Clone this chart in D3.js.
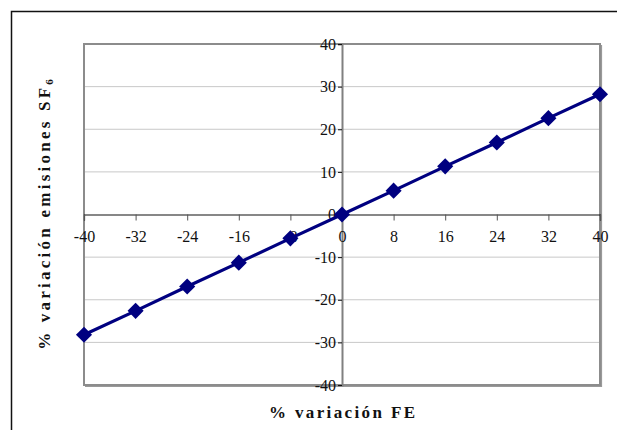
<!DOCTYPE html>
<html><head><meta charset="utf-8">
<script src="https://cdn.jsdelivr.net/npm/d3@7"></script>
<style>body{margin:0;background:#fff}svg{display:block}</style>
</head><body>
<script>
const xValues = [-40, -32, -24, -16, -8, 0, 8, 16, 24, 32, 40];
const yValues = [-28.2, -22.6, -16.9, -11.3, -5.6, 0, 5.6, 11.3, 16.9, 22.6, 28.2];
const xTicks = [-40, -32, -24, -16, -8, 0, 8, 16, 24, 32, 40];
const yTicks = [-40, -30, -20, -10, 0, 10, 20, 30, 40];

const W = 617, H = 430;
const svg = d3.select("body").append("svg").attr("width", W).attr("height", H)
  .style("font-family", '"Liberation Serif"');
const L = 84, R = 600, T = 44, B = 385;
const x = d3.scaleLinear().domain([-40, 40]).range([L, R]);
const y = d3.scaleLinear().domain([-40, 40]).range([B, T]);
const fmt = d => String(d);
const SERIF = '"Liberation Serif"';

// outer frame (left and top visible)
svg.append("path").attr("d", `M11.5,${H}V11.5H${W}`).attr("fill","none").attr("stroke","#111").attr("stroke-width",1.5);

// gridlines
svg.append("g").selectAll("line").data(yTicks.filter(d => d !== 0 && d !== 40 && d !== -40)).join("line")
  .attr("x1", L).attr("x2", R).attr("y1", d => y(d)).attr("y2", d => y(d))
  .attr("stroke", "#c8c8c8").attr("stroke-width", 1);

// plot border
svg.append("rect").attr("x", L).attr("y", T).attr("width", R - L).attr("height", B - T)
  .attr("fill", "none").attr("stroke", "#8c8c8c").attr("stroke-width", 2);
svg.append("path").attr("d", `M${R+1.5},${T+1}V${B+1.5}H${L+1}`).attr("fill","none").attr("stroke","#999").attr("stroke-width",1.2);

// y axis (at x=0)
const yAxis = d3.axisLeft(y).tickValues(yTicks).tickFormat(fmt).tickSize(4).tickPadding(2);
const gy = svg.append("g").attr("transform", `translate(${x(0)},0)`).call(yAxis);
gy.attr("font-family", SERIF);
gy.select(".domain").attr("stroke", "#808080").attr("stroke-width", 2);
gy.selectAll(".tick line").attr("stroke", "#111");
gy.selectAll("text").style("font-family", SERIF).style("font-size", "16px").attr("fill", "#111");

// x axis (at y=0)
const xAxis = d3.axisBottom(x).tickValues(xTicks).tickFormat(fmt).tickSize(6).tickPadding(10);
const gx = svg.append("g").attr("transform", `translate(0,${y(0)})`).call(xAxis);
gx.attr("font-family", SERIF);
gx.select(".domain").attr("stroke", "#111").attr("stroke-width", 1.2);
gx.selectAll(".tick line").attr("stroke", "#555");
gx.selectAll("text").style("font-family", SERIF).style("font-size", "16px").attr("fill", "#111");

// line
const pts = xValues.map((v, i) => [v, yValues[i]]);
svg.append("path").datum(pts)
  .attr("d", d3.line().x(d => x(d[0])).y(d => y(d[1])))
  .attr("fill", "none").attr("stroke", "#000080").attr("stroke-width", 3.2);
svg.append("g").selectAll("path").data(pts).join("path")
  .attr("d", d3.symbol().type(d3.symbolDiamond2).size(165))
  .attr("transform", d => `translate(${x(d[0])},${y(d[1])})`)
  .attr("fill", "#000080");

// titles
svg.append("text").attr("x", x(0)).attr("y", 418).attr("text-anchor", "middle")
  .style("font-family", SERIF).style("font-weight", "bold").style("font-size", "17px")
  .attr("textLength", 146).attr("lengthAdjust", "spacing")
  .attr("fill", "#111").text("% variación FE");
const yt = svg.append("text").attr("transform", `translate(50,${y(0)}) rotate(-90)`).attr("text-anchor", "middle")
  .style("font-family", SERIF).style("font-weight", "bold").style("font-size", "17px")
  .attr("fill", "#111");
yt.append("tspan").attr("textLength", 262).attr("lengthAdjust", "spacing").text("% variación  emisiones SF");
yt.append("tspan").style("font-size", "11px").attr("dy", 3).text("6");
</script>
</body></html>
